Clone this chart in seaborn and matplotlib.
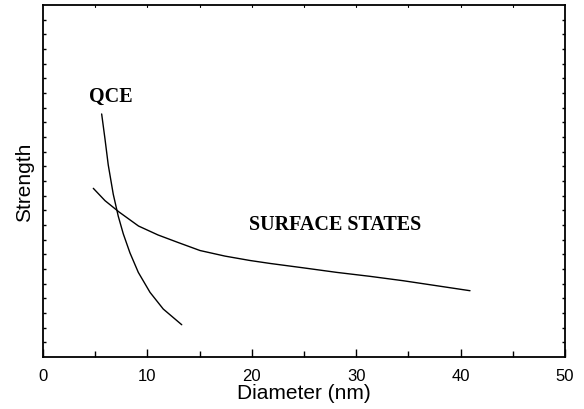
import pandas as pd
import numpy as np
import matplotlib
matplotlib.use("Agg")
import matplotlib.pyplot as plt
import seaborn as sns

# --- Data (arbitrary strength units) ---
qce_d = [5.62, 5.94, 6.25, 6.73, 7.21, 7.69, 8.33, 9.13, 10.25, 11.52, 13.29]
qce_s = [16.57, 14.86, 13.10, 11.10, 9.60, 8.40, 7.10, 5.77, 4.41, 3.27, 2.20]

surf_d = [4.82, 5.94, 7.28, 9.15, 11.02, 12.93, 15.04, 17.43, 19.83, 21.74,
          24.93, 28.13, 31.32, 34.51, 37.71, 40.90]
surf_s = [11.50, 10.66, 9.89, 8.93, 8.32, 7.81, 7.26, 6.88, 6.58, 6.38,
          6.08, 5.77, 5.50, 5.20, 4.86, 4.52]

df = pd.concat([
    pd.DataFrame({'diameter': qce_d, 'strength': qce_s, 'curve': 'QCE'}),
    pd.DataFrame({'diameter': surf_d, 'strength': surf_s, 'curve': 'SURFACE STATES'}),
])

# --- Plotting ---
sns.set_style("ticks")
plt.rcParams['font.family'] = ['Liberation Sans', 'DejaVu Sans']
plt.rcParams['text.color'] = 'black'
plt.rcParams['axes.labelcolor'] = 'black'
plt.rcParams['xtick.color'] = 'black'
plt.rcParams['ytick.color'] = 'black'

fig = plt.figure(figsize=(5.84, 4.10), dpi=100)
ax = fig.add_axes([0.0736, 0.1268, 0.8939, 0.8586])

sns.lineplot(
    data=df, x='diameter', y='strength', hue='curve',
    palette={'QCE': 'black', 'SURFACE STATES': 'black'},
    sort=False, estimator=None, linewidth=1.0, legend=False, ax=ax
)

ax.set_xlim(0, 50)
ax.set_ylim(0, 24)

# x ticks: majors labelled, minors at 5s, all inward
ax.set_xticks(range(0, 51, 10))
ax.set_xticks(range(5, 50, 10), minor=True)
ax.tick_params(axis='x', which='major', direction='in', length=6, width=1,
               labelsize=12, pad=8, top=False)
ax.tick_params(axis='x', which='minor', direction='in', length=4, width=1, top=False)

# y ticks: small unlabelled ticks on both sides
ax.set_yticks(np.arange(1, 24))
ax.set_yticklabels([])
ax.tick_params(axis='y', which='major', direction='in', length=2, width=1,
               left=True, right=True)

# top small ticks every 5
for x in range(5, 50, 5):
    ax.plot([x, x], [24, 23.88], color='black', lw=0.8, clip_on=False)

for s in ax.spines.values():
    s.set_linewidth(1.3)
    s.set_color('black')

ax.set_xlabel('Diameter (nm)', fontsize=15, labelpad=0)
ax.set_ylabel('Strength', fontsize=15, labelpad=3)

ax.text(6.51, 17.8, 'QCE', family=['Liberation Serif'], weight='bold',
        fontsize=14.5, ha='center', va='center')
ax.text(27.97, 9.07, 'SURFACE STATES', family=['Liberation Serif'], weight='bold',
        fontsize=14.5, ha='center', va='center')

fig.savefig('out.png', dpi=100)
